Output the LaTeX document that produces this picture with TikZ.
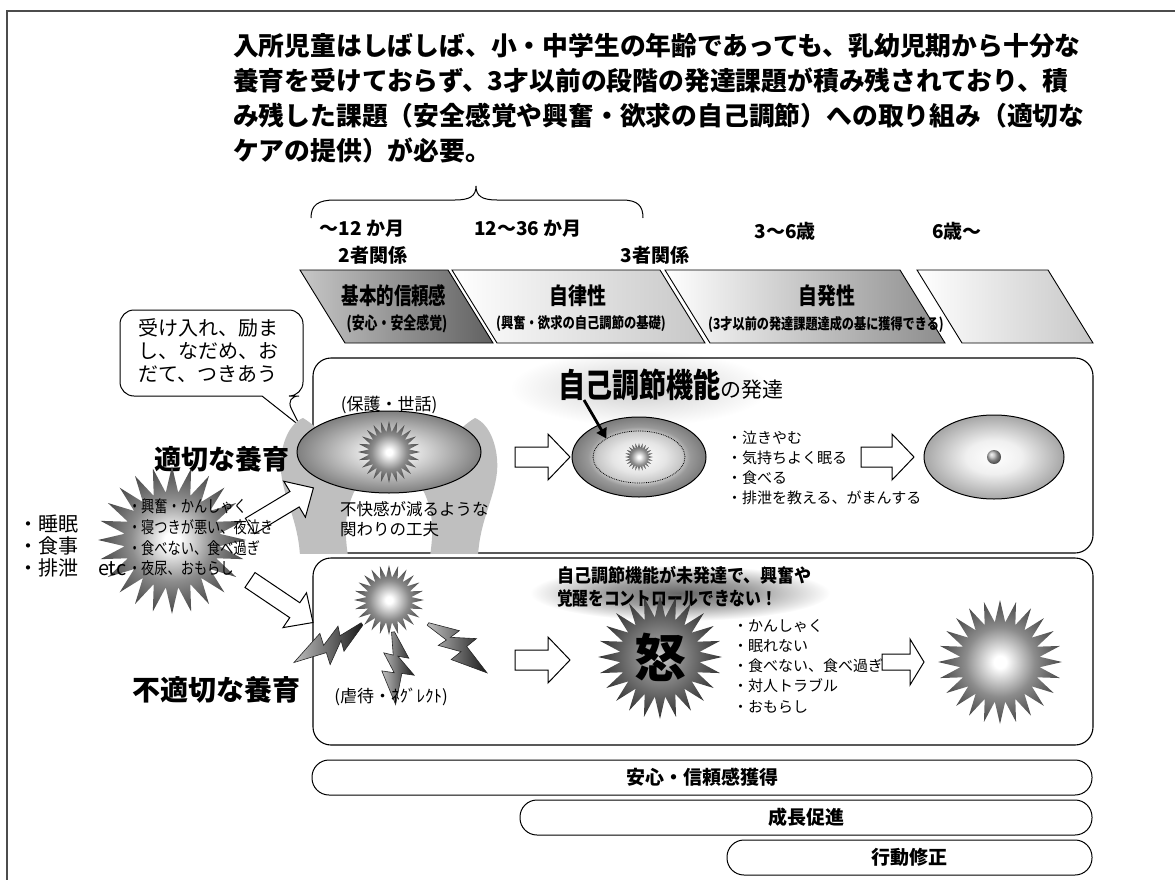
\documentclass[tikz,border=0pt]{standalone}
\usepackage{fontspec}
\usepackage{graphicx}
\setmainfont{Noto Sans CJK JP}
\usetikzlibrary{shapes.geometric,arrows.meta,calc}

% radial fills (the path edge sits at 25bp)
\pgfdeclareradialshading{burstfill}{\pgfpoint{0bp}{0bp}}{color(0bp)=(white); color(2.5bp)=(white); color(14bp)=(black!45); color(25bp)=(black!72); color(50bp)=(black!72)}
\pgfdeclareradialshading{angerfill}{\pgfpoint{0bp}{0bp}}{color(0bp)=(black!18); color(8bp)=(black!45); color(25bp)=(black!80); color(50bp)=(black!80)}
\pgfdeclareradialshading{cradlefill}{\pgfpoint{0bp}{0bp}}{color(0bp)=(white); color(8bp)=(black!12); color(25bp)=(black!50); color(50bp)=(black!50)}
\pgfdeclareradialshading{growfill}{\pgfpoint{0bp}{0bp}}{color(0bp)=(white); color(10bp)=(black!10); color(16bp)=(black!22); color(19bp)=(black!40); color(25bp)=(black!52); color(50bp)=(black!52)}
\pgfdeclareradialshading{calmfill}{\pgfpoint{0bp}{0bp}}{color(0bp)=(white); color(10bp)=(black!6); color(25bp)=(black!35); color(50bp)=(black!35)}
\pgfdeclareradialshading{softhaze}{\pgfpoint{0bp}{0bp}}{color(0bp)=(black!20); color(12bp)=(black!10); color(25bp)=(white); color(50bp)=(white)}
\pgfdeclareradialshading{darkhaze}{\pgfpoint{0bp}{0bp}}{color(0bp)=(black!60); color(12bp)=(black!38); color(25bp)=(white); color(50bp)=(white)}

% hollow block arrow: tail x, tail y, angle, length, shaft half, head half, head length
\newcommand\fatarrow[7]{%
  \begin{scope}[shift={(#1,#2)},rotate=#3]
    \draw[hollowarrow] (0,-#5) -- (#4-#7,-#5) -- (#4-#7,-#6) -- (#4,0) -- (#4-#7,#6) -- (#4-#7,#5) -- (0,#5) -- cycle;
  \end{scope}}
% lightning bolt: start x, start y, angle, length factor
\newcommand\zapbolt[4]{%
  \begin{scope}[shift={(#1,#2)},rotate=#3,xscale=#4,yscale=1.5]
    \path[boltshape] (0,-1) -- (32,-8) -- (28,-1) -- (52,-10) -- (48,-2) -- (82,5) -- (42,11) -- (46,3) -- (22,8) -- (26,2) -- (0,1) -- cycle;
  \end{scope}}
% one hand, fingers up on the left of the egg
\newcommand\handshape{%
  (303,418) .. controls (288,424) and (279,448) .. (281,472) .. controls (284,500) and (298,520) .. (300,556)
  -- (348,556) .. controls (344,530) and (345,510) .. (355,490) -- (345,465) .. controls (335,448) and (320,428) .. cycle}

\begin{document}
\begin{tikzpicture}[x=1pt,y=-1pt,
  every node/.style={inner sep=0pt,outer sep=0pt},
  headline/.style={anchor=west,font=\bfseries\fontsize{25.8}{30}\selectfont},
  agetag/.style={font=\bfseries\fontsize{19}{22}\selectfont},
  stagebox/.style={draw,line width=0.9pt},
  panelbox/.style={draw,line width=1.1pt,rounded corners=18pt},
  supportbar/.style={draw,line width=1pt,rounded corners=17pt,minimum height=35pt,font=\bfseries\fontsize{19}{22}\selectfont},
  burst/.style={star,star points=24,star point ratio=1.55,minimum size=#1,shade,shading=burstfill},
  txt/.style={font=\fontsize{#1}{#1}\selectfont},
  btxt/.style={font=\bfseries\fontsize{#1}{#1}\selectfont},
  hollowarrow/.style={draw,line width=1pt,fill=white,line join=miter},
  boltshape/.style={draw=black!85,line width=0.6pt,left color=black!25,right color=black!90},
]
\useasboundingbox (0,0) rectangle (1175,880);

% frame
\draw[line width=2.4pt,black!70] (7,880) -- (7,11) -- (1175,11);

% heading
\node[headline] (h1) at (233,46) {入所児童はしばしば、小・中学生の年齢であっても、乳幼児期から十分な};
\node[headline] (h2) at (233,81) {養育を受けておらず、3才以前の段階の発達課題が積み残されており、積};
\node[headline] (h3) at (233,116) {み残した課題（安全感覚や興奮・欲求の自己調節）への取り組み（適切な};
\node[headline] (h4) at (233,151) {ケアの提供）が必要。};

% brace over the first two age ranges
\draw[line width=1pt] (311,218) .. controls (311,205) and (318,200) .. (335,200) -- (455,200)
  .. controls (470,200) and (476,196) .. (476,186) .. controls (476,196) and (482,200) .. (497,200)
  -- (622,200) .. controls (638,200) and (643,206) .. (643,218);

% ages and relations
\node[agetag] (a1) at (362,229) {～12 か月};
\node[agetag] (a2) at (528,229) {12～36 か月};
\node[agetag] (a3) at (785,231) {3～6歳};
\node[agetag] (a4) at (957,231) {6歳～};
\node[agetag] (r2) at (373,255) {2者関係};
\node[agetag] (r3) at (655,255) {3者関係};

% stages
\path[stagebox,left color=black!22,right color=black!62] (300,270) -- (448,270) -- (493,343) -- (345,343) -- cycle;
\path[stagebox,left color=white,right color=black!22] (452,270) -- (660,270) -- (705,343) -- (497,343) -- cycle;
\path[stagebox,left color=white,right color=black!45] (665,270) -- (900,270) -- (945,343) -- (710,343) -- cycle;
\path[stagebox,left color=white,right color=black!22] (917,270) -- (1048,270) -- (1093,343) -- (962,343) -- cycle;
\node[btxt=23] (s1) at (394,296) {\scalebox{0.76}[1]{基本的信頼感}};
\node[btxt=17] (s1b) at (397,324) {\scalebox{0.76}[1]{(安心・安全感覚)}};
\node[btxt=23] (s2) at (578,296) {\scalebox{0.82}[1]{自律性}};
\node[btxt=15] (s2b) at (581,324) {\scalebox{0.82}[1]{(興奮・欲求の自己調節の基礎)}};
\node[btxt=23] (s3) at (827,296) {\scalebox{0.82}[1]{自発性}};
\node[btxt=15] (s3b) at (826,324) {\scalebox{0.81}[1]{(3才以前の発達課題達成の基に獲得できる)}};

% hazes behind the panel titles
\shade[shading=softhaze] (640,388) ellipse [x radius=130pt, y radius=38pt];
\shade[shading=darkhaze] (680,593) ellipse [x radius=150pt, y radius=28pt];

% panels
\node[panelbox,minimum width=780pt,minimum height=195pt] (care) at (703,455.5) {};
\node[panelbox,minimum width=780pt,minimum height=187pt] (neglect) at (703,651.5) {};

% speech bubble
\draw[line width=1pt,fill=white] [rounded corners=14pt] (120,354) |- (303,310) |- (285,396)
  [sharp corners] -- (300,426) -- (262,396) [rounded corners=14pt] -| (120,354) -- cycle;
\node[font=\fontsize{20}{23}\selectfont,align=left,anchor=north west] (soothe) at (138,319) {受け入れ、励ま\\し、なだめ、お\\だて、つきあう};

% holding hands
\begin{scope}
  \clip (0,400) rectangle (1175,553);
  \fill[black!25] \handshape;
  \begin{scope}[shift={(778,0)},xscale=-1]
    \fill[black!25] \handshape;
  \end{scope}
\end{scope}
\node[ellipse,draw,line width=1pt,minimum width=184pt,minimum height=82pt,shade,shading=cradlefill] (cradle) at (389,452) {};
\node[burst=62pt] (calmcore) at (389,452) {};
\node[txt=17] (protect) at (389,405) {(保護・世話)};
\node[txt=16.5,anchor=west] (ease1) at (340,509) {不快感が減るような};
\node[txt=16.5,anchor=west] (ease2) at (340,529) {関わりの工夫};
\node[btxt=27] (proper) at (222,459) {適切な養育};

% self-regulation grows
\node[anchor=west] (selfreg) at (558,385) {{\bfseries\fontsize{33}{36}\selectfont\scalebox{0.82}[1]{自己調節機能}}{\fontsize{21}{23}\selectfont の発達}};
\node[ellipse,draw,line width=1pt,minimum width=134pt,minimum height=80pt,shade,shading=growfill] (grow) at (639,457) {};
\node[ellipse,draw,densely dotted,line width=0.8pt,minimum width=92pt,minimum height=52pt] (selfcore) at (639,457) {};
\node[burst=28pt] (seed) at (639,457) {};
\coordinate (pointer) at (584,400);
\draw[line width=2.8pt,-{Triangle[length=10pt,width=11pt]}] (pointer) -- (selfcore.north west);
\node[txt=15,anchor=west] (u1) at (727,438) {・泣きやむ};
\node[txt=15,anchor=west] (u2) at (727,458) {・気持ちよく眠る};
\node[txt=15,anchor=west] (u3) at (727,478) {・食べる};
\node[txt=15,anchor=west] (u4) at (727,498) {・排泄を教える、がまんする};
\node[ellipse,draw,line width=1pt,minimum width=140pt,minimum height=84pt,shade,shading=calmfill] (settled) at (994,457) {};
\node[circle,minimum size=14pt,ball color=black!30] (dot) at (994,457) {};
\fatarrow{515}{457}{0}{55}{10}{23}{22}
\fatarrow{861}{457}{0}{53}{10}{23}{22}

% everyday troubles
\node[burst=148pt] (upset) at (172,540) {};
\fatarrow{250}{526}{31}{74}{9}{21}{22}
\fatarrow{250}{580}{-34}{76}{9}{21}{22}
\node[txt=20,anchor=west] (sleep) at (18,524) {・睡眠};
\node[txt=20,anchor=west] (meal) at (18,546) {・食事};
\node[txt=20,anchor=west] (toilet) at (18,568) {・排泄\hspace{1em}etc};
\node[txt=16.5,anchor=west] (p1) at (128,506) {\scalebox{0.8}[1]{・興奮・かんしゃく}};
\node[txt=16.5,anchor=west] (p2) at (128,527) {\scalebox{0.8}[1]{・寝つきが悪い、夜泣き}};
\node[txt=16.5,anchor=west] (p3) at (128,548) {\scalebox{0.8}[1]{・食べない、食べ過ぎ}};
\node[txt=16.5,anchor=west] (p4) at (128,568) {\scalebox{0.8}[1]{・夜尿、おもらし}};

% improper care
\node[anchor=west] (lt1) at (557,575) {\bfseries\fontsize{18.5}{20}\selectfont\scalebox{0.92}[1]{自己調節機能が未発達で、興奮や}};
\node[anchor=west] (lt2) at (557,598) {\bfseries\fontsize{18.5}{20}\selectfont\scalebox{0.85}[1]{覚醒をコントロールできない！}};
\node[burst=70pt] (distress) at (389,600) {};
\zapbolt{362}{624}{215}{0.95}
\zapbolt{393}{632}{-82}{0.88}
\zapbolt{428}{624}{-34}{0.93}
\node[btxt=28] (improper) at (216,690) {不適切な養育};
\node[txt=17] (abuse) at (391,697) {(虐待・ﾈｸﾞﾚｸﾄ)};
\fatarrow{515}{660}{0}{55}{10}{23}{22}
\node[burst=124pt,shading=angerfill] (anger) at (660,657) {};
\node[btxt=52] (angerglyph) at (660,657) {怒};
\node[txt=15,anchor=west] (d1) at (733,626) {・かんしゃく};
\node[txt=15,anchor=west] (d2) at (733,646) {・眠れない};
\node[txt=15,anchor=west] (d3) at (733,666) {・食べない、食べ過ぎ};
\node[txt=15,anchor=west] (d4) at (733,686) {・対人トラブル};
\node[txt=15,anchor=west] (d5) at (733,707) {・おもらし};
\fatarrow{882}{662}{0}{42}{8}{23}{14}
\node[burst=124pt] (restless) at (1000,662) {};

% supports
\node[supportbar,minimum width=780pt] (b1) at (702,777.5) {安心・信頼感獲得};
\node[supportbar,minimum width=572pt] (b2) at (806,817.5) {成長促進};
\node[supportbar,minimum width=365pt] (b3) at (909.5,857.5) {行動修正};
\end{tikzpicture}
\end{document}
